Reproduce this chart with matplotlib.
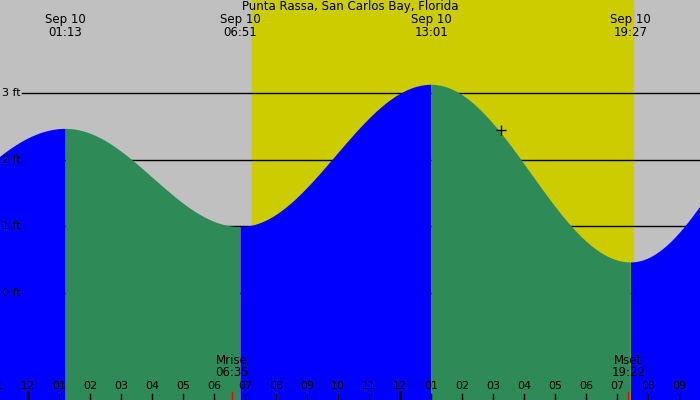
import numpy as np
import matplotlib
matplotlib.use("Agg")
import matplotlib.pyplot as plt

title = "Punta Rassa, San Carlos Bay, Florida"
# tide extremes: hours since Sep 10 00:00, height ft (first and last are off-chart estimates)
ext_hours = [-5.5, 1.2167, 6.85, 13.0167, 19.45, 25.2]
ext_heights = [0.6, 2.46, 0.99, 3.12, 0.46, 3.0]
ext_labels = ["01:13", "06:51", "13:01", "19:27"]
sunrise, sunset = 7.23, 19.52
moonrise, moonset = 6.583, 19.367
gridlevels = [0, 1, 2, 3]

x0, x1 = -0.9, 21.68
y0, y1 = -1.6, 4.39

fig = plt.figure(figsize=(7, 4), dpi=100)
ax = fig.add_axes([0, 0, 1, 1])
ax.set_xlim(x0, x1); ax.set_ylim(y0, y1); ax.axis("off")
ax.axvspan(x0, x1, color="#c0c0c0", zorder=0)
ax.axvspan(sunrise, sunset, color="#cccc00", zorder=0.5)

t = np.linspace(x0, x1, 3000)
h = np.zeros_like(t)
rising = np.zeros_like(t, dtype=bool)
for i in range(len(ext_hours) - 1):
    a, b = ext_hours[i], ext_hours[i + 1]
    m = (t >= a) & (t <= b)
    f = (t[m] - a) / (b - a)
    ha, hb = ext_heights[i], ext_heights[i + 1]
    h[m] = ha + (hb - ha) * (1 - np.cos(np.pi * f)) / 2
    rising[m] = hb > ha

dx = 1 / 31
for lv in gridlevels:
    ax.plot([x0 + 22 * dx, x1], [lv, lv], color="black", lw=1, zorder=1)
    ax.text(x0 + 2 * dx, lv, f"{lv} ft", fontsize=8, va="center", ha="left", zorder=3)

ax.fill_between(t, y0, h, where=rising, color="#0000ff", zorder=2, lw=0)
ax.fill_between(t, y0, h, where=~rising, color="#2e8b57", zorder=2, lw=0)

ax.text((x0 + x1) / 2, y1 - 6 / 66.7, title, fontsize=8.5, ha="center", va="center")
for hr, lab in zip(ext_hours[1:5], ext_labels):
    ax.text(hr, y1 - 19 / 66.7, "Sep 10", fontsize=8.5, ha="center", va="center")
    ax.text(hr, y1 - 32 / 66.7, lab, fontsize=8.5, ha="center", va="center")

py = 1 / 66.7
for hr in range(-1, 22):
    lab = f"{(hr % 12) or 12:02d}"
    ax.text(hr, y0 + 14 * py, lab, fontsize=8, ha="center", va="center", zorder=3)
    big = hr % 12 == 0
    ax.plot([hr, hr], [y0, y0 + (8 if big else 6) * py], color="black", lw=2 if big else 1, zorder=3)
for mt, nm, lab in [(moonrise, "Mrise", "06:35"), (moonset, "Mset", "19:22")]:
    ax.plot([mt, mt], [y0, y0 + 8 * py], color="red", lw=1, zorder=3)
    ax.text(mt, y0 + 39 * py, nm, fontsize=8.5, ha="center", va="center", zorder=3)
    ax.text(mt, y0 + 27 * py, lab, fontsize=8.5, ha="center", va="center", zorder=3)
ax.plot([(501 / 31) + x0], [(293 - 130) / 66.7], marker="+", color="black", ms=7, mew=1, zorder=3)

fig.savefig("out.png", dpi=100)
